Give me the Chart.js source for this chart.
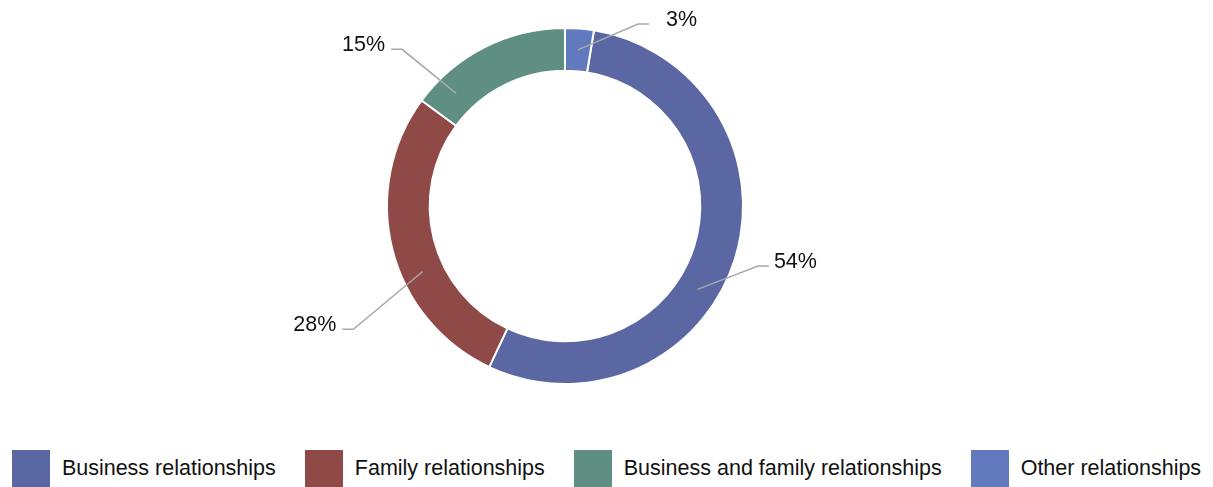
<!DOCTYPE html>
<html>
<head>
<meta charset="utf-8">
<script src="https://cdn.jsdelivr.net/npm/chart.js@4/dist/chart.umd.min.js"></script>
<style>
  html, body { margin: 0; padding: 0; background: #fff; }
  body { width: 1213px; height: 487px; overflow: hidden; position: relative;
         font-family: "Liberation Sans", Arial, Helvetica, sans-serif; }
  #wrap { position: absolute; left: 0; top: 0; width: 1213px; height: 440px; }
  #legend { position: absolute; left: 0; top: 450px; width: 1213px; height: 37px;
            display: flex; justify-content: center; align-items: center; gap: 29px; }
  .item { display: flex; align-items: center; gap: 12px; font-size: 21.5px; color: #111; white-space: nowrap; }
  .box { width: 38px; height: 37px; }
</style>
</head>
<body>
<div id="wrap"><canvas id="pie"></canvas></div>
<div id="legend"></div>
<script>
// values (share of each relationship type, %)
const categories = ['Business relationships', 'Family relationships', 'Business and family relationships', 'Other relationships']
const shares = [54.4, 28.1, 14.9, 2.6]
const colours = ['#5a67a3', '#8f4a47', '#5f8f82', '#6379bd']

// where each leader line leaves its slice / where it bends (degrees off the slice middle, clockwise)
const tweaks = [
  { start: 14.9, bend: 0, out: 24, gap: 5 },
  { start: -10.5, bend: -16, out: 67, gap: 6 },
  { start: -17.2, bend: -19.3, out: 48, gap: 6 },
  { start: 0, bend: 17.2, out: 18, gap: 17 }
]

Chart.defaults.font.family = '"Liberation Sans", Arial, Helvetica, sans-serif'

const total = shares.reduce((a, b) => a + b, 0)
// the small "other" slice sits just before 12 o'clock, so the ring is turned by its size
const turn = shares[shares.length - 1] / total * 360

/* leader lines + percentage labels */
const leaderLabels = {
  id: 'leaderLabels',
  afterDatasetsDraw(chart) {
    const ctx = chart.ctx
    const meta = chart.getDatasetMeta(0)
    ctx.save()
    ctx.strokeStyle = '#a8a8a8'
    ctx.lineWidth = 1.5
    ctx.fillStyle = '#111'
    ctx.font = '21.5px "Liberation Sans", Arial, Helvetica, sans-serif'
    ctx.textBaseline = 'alphabetic'
    meta.data.forEach((arc, i) => {
      const p = arc.getProps(['x', 'y', 'startAngle', 'endAngle', 'innerRadius', 'outerRadius'], true)
      const mid = (p.startAngle + p.endAngle) / 2
      const t = tweaks[i]
      const rad = d => d * Math.PI / 180
      const rMid = (p.innerRadius + p.outerRadius) / 2
      const a0 = mid + rad(t.start)
      const a1 = mid + rad(t.bend)
      const sx = p.x + rMid * Math.cos(a0)
      const sy = p.y + rMid * Math.sin(a0)
      const bx = p.x + (p.outerRadius + t.out) * Math.cos(a1)
      const by = p.y + (p.outerRadius + t.out) * Math.sin(a1)
      const right = Math.cos(a1) >= 0
      const ex = bx + (right ? 11 : -11)
      ctx.beginPath()
      ctx.moveTo(sx, sy)
      ctx.lineTo(bx, by)
      ctx.lineTo(ex, by)
      ctx.stroke()
      const txt = Math.round(shares[i] / total * 100) + '%'
      ctx.textAlign = right ? 'left' : 'right'
      ctx.fillText(txt, ex + (right ? t.gap : -t.gap), by + 2)
    })
    ctx.restore()
  }
}

const pieChart = new Chart(document.getElementById('pie'), {
  type: 'doughnut',
  data: {
    labels: categories,
    datasets: [{
      data: shares,
      backgroundColor: colours,
      borderColor: '#ffffff',
      borderWidth: 2,
      hoverOffset: 0
    }]
  },
  options: {
    responsive: true,
    maintainAspectRatio: false,
    animation: false,
    rotation: turn,
    cutout: '76%',
    layout: { padding: { top: 27, bottom: 55, left: 0, right: 83 } },
    plugins: {
      legend: { display: false },
      tooltip: { enabled: false }
    }
  },
  plugins: [leaderLabels]
})

/* html legend from the chart's own legend items */
const legendEl = document.getElementById('legend')
Chart.overrides.doughnut.plugins.legend.labels.generateLabels(pieChart).forEach(item => {
  const el = document.createElement('div')
  el.className = 'item'
  const box = document.createElement('span')
  box.className = 'box'
  box.style.background = item.fillStyle
  const label = document.createElement('span')
  label.textContent = item.text
  el.appendChild(box)
  el.appendChild(label)
  legendEl.appendChild(el)
})
</script>
</body>
</html>
